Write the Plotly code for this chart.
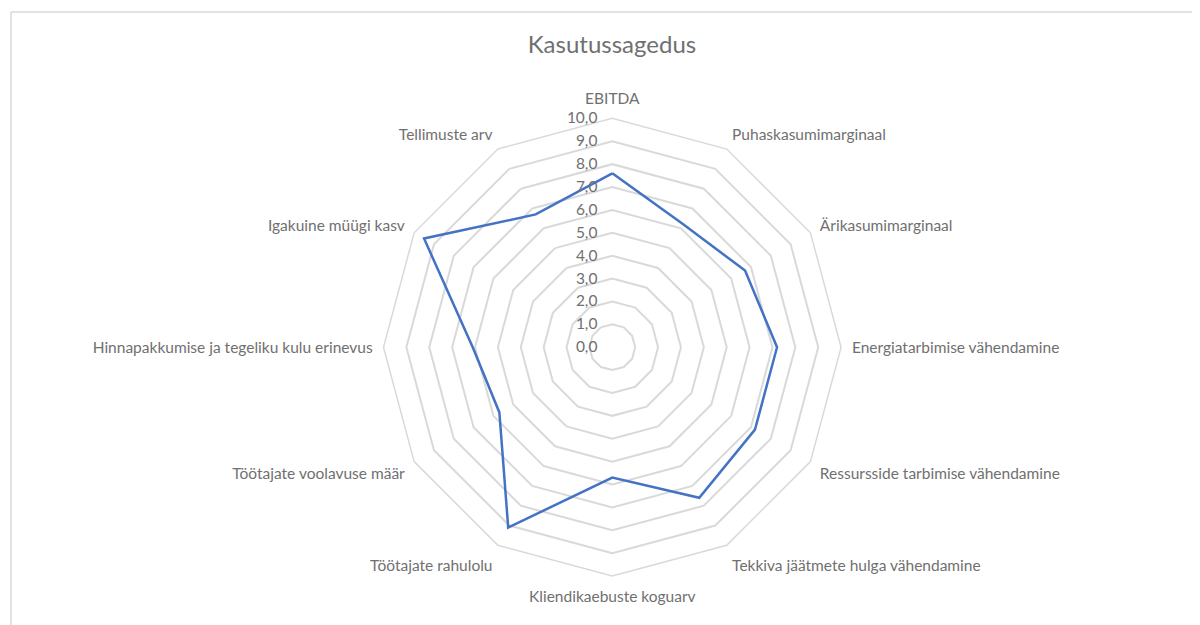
import plotly.graph_objects as go

categories = [
    "EBITDA",
    "Puhaskasumimarginaal",
    "Ärikasumimarginaal",
    "Energiatarbimise vähendamine",
    "Ressursside tarbimise vähendamine",
    "Tekkiva jäätmete hulga vähendamine",
    "Kliendikaebuste koguarv",
    "Töötajate rahulolu",
    "Töötajate voolavuse määr",
    "Hinnapakkumise ja tegeliku kulu erinevus",
    "Igakuine müügi kasv",
    "Tellimuste arv",
]
values = [7.6, 6.2, 6.7, 7.2, 7.2, 7.6, 5.7, 9.1, 5.7, 6.1, 9.5, 6.7]
tick_values = [0, 1, 2, 3, 4, 5, 6, 7, 8, 9, 10]

gray = "#707070"
grid = "#d9d9d9"
font_family = "Lato, 'Open Sans', sans-serif"

fig = go.Figure()
fig.add_trace(go.Scatterpolar(
    r=values + values[:1],
    theta=categories + categories[:1],
    mode="lines",
    line=dict(color="#4472C4", width=2.5),
    showlegend=False,
    hoverinfo="r+theta",
))

W, H = 1200, 625
OFF = 8  # page body margin
cx, cy, rad = 612.3 - OFF, 347.2 - OFF, 228.8

fig.update_layout(
    width=W, height=H,
    autosize=False,
    margin=dict(l=0, r=0, t=0, b=0),
    paper_bgcolor="white",
    plot_bgcolor="white",
    separators=",.",
    font=dict(family=font_family, color=gray, size=15.5),
    title=dict(text="Kasutussagedus", x=(612 - OFF) / W, xanchor="center",
               y=1 - (45 - OFF) / H, yanchor="middle",
               font=dict(size=24, color=gray, family=font_family)),
    polar=dict(
        domain=dict(x=[(cx - rad) / W, (cx + rad) / W],
                    y=[(H - cy - rad) / H, (H - cy + rad) / H]),
        bgcolor="white",
        gridshape="linear",
        angularaxis=dict(
            rotation=90,
            direction="clockwise",
            showgrid=False,
            showline=True,
            linecolor=grid,
            linewidth=1.5,
            ticks="outside",
            ticklen=7,
            tickcolor="rgba(0,0,0,0)",
            tickfont=dict(size=15.5, color=gray, family=font_family),
        ),
        radialaxis=dict(
            range=[0, 10],
            tickvals=tick_values,
            tickformat=".1f",
            angle=90,
            tickangle=90,
            side="counterclockwise",
            showline=False,
            ticks="outside",
            ticklen=9,
            tickcolor="rgba(0,0,0,0)",
            showgrid=True,
            gridcolor=grid,
            gridwidth=1.5,
            tickfont=dict(size=15.5, color=gray, family=font_family),
        ),
    ),
    shapes=[
        dict(type="line", xref="paper", yref="paper",
             x0=(11 - OFF) / W, x1=1.0, y0=1 - (12 - OFF) / H, y1=1 - (12 - OFF) / H,
             line=dict(color=grid, width=1.5)),
        dict(type="line", xref="paper", yref="paper",
             x0=(11 - OFF) / W, x1=(11 - OFF) / W, y0=0, y1=1 - (12 - OFF) / H,
             line=dict(color=grid, width=1.5)),
    ],
)

fig.write_html("out.html")
